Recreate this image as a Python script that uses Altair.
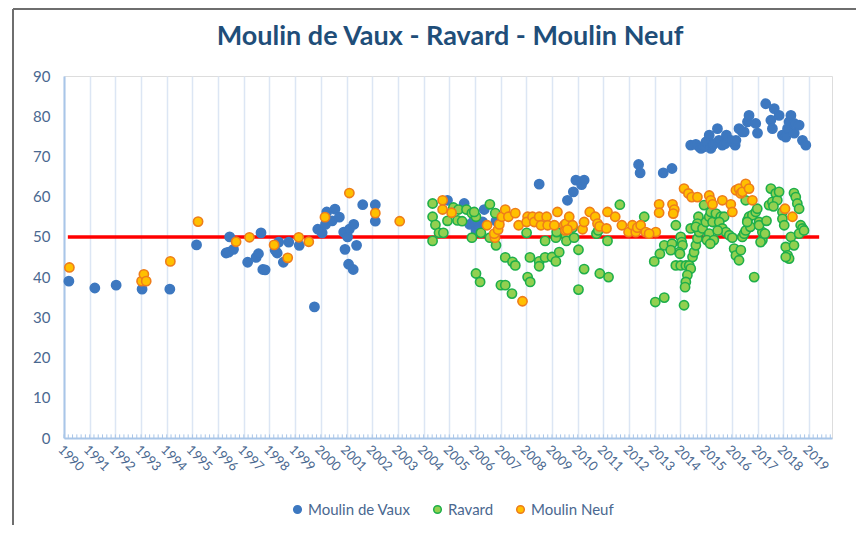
import altair as alt
import pandas as pd
import numpy as np

# ---------------- data ----------------
mdv_year = [1990.19, 1991.20, 1992.03, 1993.04, 1994.12, 1995.16, 1996.31, 1996.41, 1996.60, 1996.45,
            1997.15, 1997.48, 1997.57, 1997.67, 1997.74, 1997.83, 1998.22, 1998.30, 1998.36, 1998.54,
            1998.75, 1999.16, 1999.75, 1999.88, 2000.05, 2000.23, 2000.18, 2000.44, 2000.55, 2000.72,
            2000.89, 2001.04, 2001.11, 2001.28, 2000.94, 2001.39, 2001.08, 2001.26, 2001.63, 2002.12,
            2002.12, 2004.93, 2005.58, 2005.80, 2005.95, 2006.04, 2006.17, 2006.30, 2006.36, 2006.82,
            2008.50, 2009.60, 2009.83, 2009.93, 2010.15, 2010.25, 2012.37, 2012.43, 2013.33, 2013.67,
            2014.40, 2014.60, 2014.73, 2014.80, 2014.92, 2014.99, 2015.12, 2015.18, 2015.25, 2015.30,
            2015.44, 2015.50, 2015.63, 2015.74, 2015.79, 2015.96, 2016.13, 2016.16, 2016.28, 2016.41,
            2016.48, 2016.61, 2016.67, 2016.93, 2017.00, 2017.32, 2017.52, 2017.58, 2017.65, 2017.84,
            2017.97, 2018.10, 2018.17, 2018.23, 2018.30, 2018.43, 2018.43, 2018.62, 2018.75, 2018.88]
mdv_value = [39.0, 37.3, 38.0, 37.0, 37.0, 48.0, 46.0, 46.2, 46.9, 50.0,
             43.7, 44.9, 45.8, 51.0, 41.9, 41.8, 46.7, 46.0, 48.7, 43.7,
             48.7, 47.9, 32.6, 51.9, 51.0, 56.2, 53.1, 54.0, 56.9, 54.9,
             51.2, 50.0, 51.9, 53.1, 46.9, 47.9, 43.2, 41.9, 58.0, 58.0,
             53.9, 59.1, 58.3, 53.1, 54.0, 51.6, 52.5, 53.7, 56.8, 54.0,
             63.1, 59.1, 61.2, 64.1, 63.0, 64.1, 68.0, 65.9, 65.9, 67.0,
             72.8, 73.0, 72.4, 72.0, 72.4, 73.6, 75.3, 72.0, 72.8, 73.2,
             76.9, 74.0, 72.8, 73.2, 75.3, 74.0, 72.8, 74.0, 76.9, 76.1,
             76.1, 78.6, 80.2, 78.2, 75.8, 83.1, 79.0, 76.9, 81.9, 80.2,
             75.3, 74.8, 76.9, 78.6, 80.2, 78.2, 75.8, 77.8, 74.0, 72.8]

rav_year = [2004.35, 2004.35, 2004.46, 2004.35, 2004.60, 2004.77, 2004.93, 2005.16, 2005.32, 2005.36,
            2005.50, 2005.67, 2005.88, 2006.04, 2005.97, 2005.88, 2006.23, 2006.58, 2006.79, 2006.58,
            2006.82, 2006.04, 2006.20, 2007.01, 2007.18, 2007.44, 2007.18, 2007.46, 2007.57, 2008.01,
            2008.05, 2008.15, 2008.14, 2008.50, 2008.50, 2008.73, 2008.73, 2009.00, 2009.15, 2009.15,
            2009.18, 2009.54, 2009.56, 2009.80, 2009.86, 2009.28, 2010.03, 2010.03, 2010.25, 2010.73,
            2010.80, 2010.86, 2011.20, 2011.16, 2011.64, 2012.59, 2012.98, 2013.02, 2013.20, 2013.37,
            2013.37, 2013.82, 2014.01, 2014.05, 2014.08, 2013.95, 2013.67, 2013.62, 2013.98, 2013.82,
            2014.01, 2014.21, 2014.34, 2014.40, 2014.27, 2014.21, 2014.18, 2014.14, 2014.47, 2014.53,
            2014.60, 2014.66, 2014.73, 2014.70, 2014.66, 2014.40, 2014.60, 2014.86, 2014.99, 2015.12,
            2015.18, 2015.25, 2015.38, 2015.57, 2015.70, 2015.51, 2015.63, 2015.77, 2015.90, 2014.92,
            2015.12, 2015.03, 2015.45, 2015.30, 2015.16, 2016.02, 2016.09, 2016.16, 2016.28, 2016.35,
            2016.41, 2016.48, 2016.54, 2016.61, 2016.67, 2016.80, 2016.93, 2016.99, 2016.54, 2016.72,
            2016.60, 2017.06, 2017.19, 2017.19, 2017.06, 2017.12, 2017.29, 2017.35, 2017.45, 2017.52,
            2017.58, 2017.71, 2017.77, 2017.84, 2017.62, 2016.87, 2017.97, 2017.97, 2018.04, 2018.10,
            2018.17, 2018.23, 2018.10, 2018.30, 2018.42, 2018.42, 2018.49, 2018.55, 2018.62, 2018.68,
            2018.75, 2018.62, 2018.81]
rav_value = [58.3, 55.0, 53.0, 49.0, 51.0, 51.0, 54.0, 57.3, 54.1, 56.8,
             53.9, 56.8, 55.9, 55.0, 56.2, 49.8, 51.0, 58.1, 55.9, 49.8,
             47.9, 40.9, 38.8, 38.0, 38.0, 35.9, 44.9, 43.8, 42.9, 51.0,
             40.0, 38.8, 44.9, 43.9, 42.7, 44.9, 49.0, 45.0, 43.9, 49.8,
             51.2, 50.4, 49.0, 52.3, 49.8, 46.2, 46.8, 36.9, 42.0, 50.8,
             51.6, 40.9, 40.0, 49.0, 58.0, 55.0, 43.9, 33.8, 45.8, 47.9,
             34.9, 52.9, 50.0, 48.7, 47.9, 46.2, 48.3, 46.7, 45.8, 42.9,
             42.9, 42.9, 42.9, 42.1, 40.5, 38.8, 37.5, 33.0, 45.0, 46.2,
             47.9, 49.6, 51.2, 55.0, 53.3, 52.1, 52.5, 52.1, 53.7, 55.0,
             56.2, 53.7, 55.8, 55.0, 55.0, 53.7, 52.1, 51.2, 50.4, 57.9,
             50.8, 49.2, 51.6, 49.2, 48.3, 49.8, 47.1, 45.4, 44.2, 46.7,
             50.0, 50.8, 51.6, 54.1, 55.0, 55.4, 56.2, 57.0, 59.1, 52.5,
             53.7, 53.7, 51.2, 49.2, 52.9, 48.7, 50.8, 54.0, 57.9, 62.0,
             58.7, 60.8, 59.1, 61.2, 57.6, 40.0, 56.2, 54.5, 52.9, 47.5,
             45.4, 44.6, 45.0, 50.0, 47.9, 60.9, 59.9, 58.3, 57.0, 52.9,
             52.1, 50.8, 51.6]

mn_year = [1990.21, 1993.02, 1993.11, 1993.20, 1994.14, 1995.22, 1996.70, 1997.22, 1998.18, 1998.71,
           1999.14, 1999.53, 2000.16, 2001.11, 2002.12, 2003.07, 2004.74, 2004.74, 2005.09, 2006.47,
           2006.78, 2006.75, 2006.90, 2006.95, 2007.05, 2007.18, 2007.30, 2007.57, 2007.70, 2007.85,
           2008.05, 2008.01, 2008.24, 2008.31, 2008.50, 2008.57, 2008.79, 2008.83, 2009.09, 2009.21,
           2009.47, 2009.52, 2009.54, 2009.67, 2009.80, 2009.60, 2010.19, 2010.25, 2010.47, 2010.68,
           2010.77, 2010.85, 2011.16, 2011.46, 2011.12, 2011.72, 2011.98, 2012.13, 2012.26, 2012.32,
           2012.45, 2012.65, 2013.04, 2012.78, 2013.17, 2013.17, 2013.69, 2013.76, 2013.72, 2014.14,
           2014.31, 2014.44, 2014.66, 2015.12, 2015.18, 2015.25, 2015.63, 2015.96, 2016.02, 2016.16,
           2016.28, 2016.35, 2016.41, 2016.54, 2016.67, 2016.80, 2018.07, 2018.36]
mn_value = [42.4, 39.0, 40.7, 39.0, 43.9, 53.8, 48.8, 49.9, 48.0, 44.8,
            49.9, 48.8, 54.9, 60.9, 55.9, 53.9, 59.1, 56.8, 56.0, 52.9,
            49.8, 50.8, 51.8, 53.1, 55.0, 56.8, 55.0, 55.9, 52.9, 34.0,
            55.0, 53.7, 55.0, 53.7, 55.0, 52.9, 55.0, 52.9, 52.9, 56.2,
            52.9, 51.6, 53.3, 55.0, 52.9, 51.8, 51.9, 53.7, 56.2, 55.0,
            53.3, 52.6, 56.2, 55.0, 52.1, 52.9, 51.2, 52.9, 51.2, 52.3,
            52.9, 51.2, 51.2, 50.8, 58.1, 56.0, 58.1, 56.8, 55.8, 62.0,
            60.8, 59.9, 59.9, 60.3, 59.1, 58.1, 59.1, 58.1, 56.2, 61.6,
            62.0, 60.8, 61.2, 63.2, 62.0, 59.1, 57.0, 55.0]

threshold_year = [1990.15, 2019.40]
threshold_value = [50, 50]

title_text = ["Moulin de Vaux - Ravard - Moulin Neuf"]
series_names = ["Moulin de Vaux", "Ravard", "Moulin Neuf"]
year_ticks = list(range(1990, 2020))
value_ticks = list(range(0, 100, 10))

# ---------------- tables ----------------
points = pd.concat([
    pd.DataFrame({"year": mdv_year, "value": mdv_value, "serie": series_names[0]}),
    pd.DataFrame({"year": rav_year, "value": rav_value, "serie": series_names[1]}),
    pd.DataFrame({"year": mn_year, "value": mn_value, "serie": series_names[2]}),
], ignore_index=True)
points["i"] = range(len(points))
thr = pd.DataFrame({"year": threshold_year, "value": threshold_value})
minor = pd.DataFrame({"year": np.arange(1990, 2019.9, 1 / 6.0)})
ttl = pd.DataFrame({"t": title_text})

FONT = "Lato"
TXT = "#4A6890"
XDOM = [1990, 2019.9]

xs = alt.Scale(domain=XDOM, nice=False, zero=False)
ys = alt.Scale(domain=[0, 90], nice=False)

x_axis = alt.Axis(values=year_ticks, format="d", labelAngle=45, ticks=False,
                  labelPadding=5, labelFontSize=13, labelColor=TXT, labelFont=FONT,
                  domainColor="#A9C6E8", domainWidth=2, gridColor="#DCE6F4", gridWidth=1.5,
                  title=None, labelOverlap=False, labelFlush=False, labelBound=False)
y_axis = alt.Axis(values=value_ticks, ticks=False, labelPadding=14, labelFontSize=15,
                  labelColor=TXT, labelFont=FONT, domainColor="#A9C6E8", domainWidth=2,
                  gridColor="#DCE6F4", gridWidth=1.5, title=None)

X = alt.X("year:Q", scale=xs, axis=x_axis)
Y = alt.Y("value:Q", scale=ys, axis=y_axis)

minor_ticks = alt.Chart(minor).mark_rule(color="#A9C6E8", strokeWidth=1).encode(
    x=X, y=alt.datum(0, scale=ys, axis=y_axis), y2=alt.datum(0.9))

line = alt.Chart(thr).mark_line(color="#FF0000", strokeWidth=3.5).encode(x=X, y=Y)

fill_scale = alt.Scale(domain=series_names, range=["#3D78C0", "#92D050", "#FFC000"])
stroke_scale = alt.Scale(domain=series_names, range=["#3D78C0", "#1EAF4A", "#EE7D1A"])

pts = alt.Chart(points).mark_point(filled=True, size=85, strokeWidth=1.6, opacity=1).encode(
    x=X,
    y=Y,
    fill=alt.Fill("serie:N", scale=fill_scale, title=None,
                  legend=alt.Legend(orient="none", legendX=226, legendY=426, direction="horizontal",
                                    symbolType="circle", symbolSize=58, symbolStrokeWidth=1.5,
                                    labelFont=FONT, labelFontSize=15, labelColor=TXT,
                                    gridAlign="none", columnPadding=19, labelOffset=3, title=None)),
    stroke=alt.Stroke("serie:N", scale=stroke_scale, title=None, legend=None),
    order=alt.Order("i:Q"),
)

title = alt.Chart(ttl).mark_text(font=FONT, fontSize=27, fontWeight="bold", color="#1F4E79",
                                 align="center", baseline="middle").encode(
    text="t:N", x=alt.value(386), y=alt.value(-39))

frame_left = alt.Chart(ttl).mark_rule(color="#6E6E6E", strokeWidth=2).encode(
    x=alt.value(-51), y=alt.value(-67), y2=alt.value(452))
frame_top = alt.Chart(ttl).mark_rule(color="#6E6E6E", strokeWidth=2).encode(
    x=alt.value(-51), x2=alt.value(800), y=alt.value(-67))

chart = alt.layer(minor_ticks, line, pts, title, frame_left, frame_top).properties(
    width=768, height=362,
    autosize=alt.AutoSizeParams(type="none"),
    padding={"left": 56, "top": 68, "right": 24, "bottom": 87},
).configure_view(stroke=None).configure(background="white")

chart.save("out.html", embed_options={"renderer": "svg", "actions": False})
